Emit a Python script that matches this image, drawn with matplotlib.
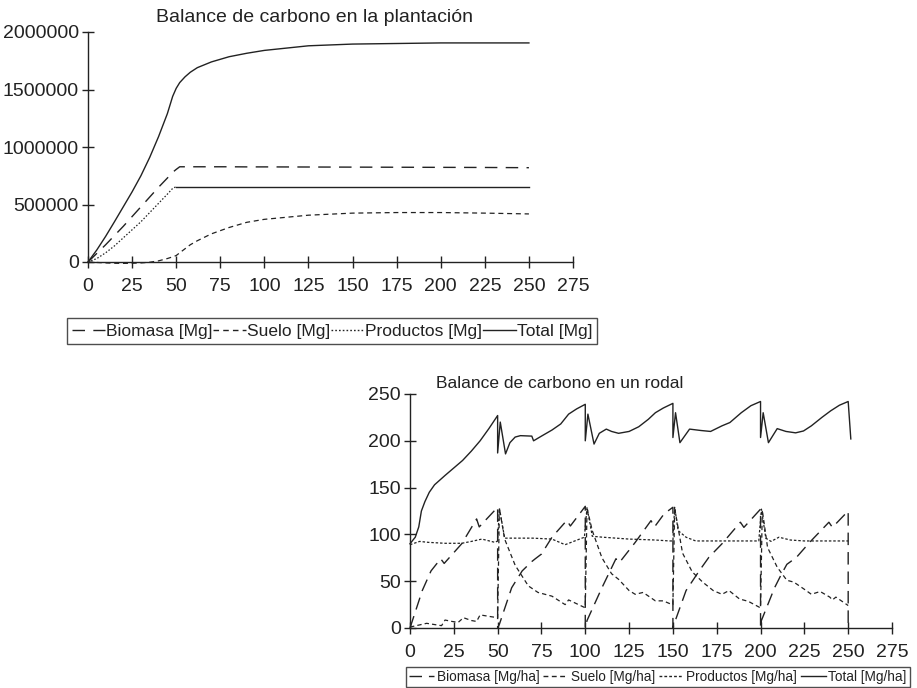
import matplotlib
matplotlib.use("Agg")
import matplotlib.pyplot as plt
from matplotlib import font_manager
from matplotlib.lines import Line2D
from matplotlib.ticker import FuncFormatter

# ---------------- data: plantation (top chart) ----------------
years_plant = [0, 5, 10, 15, 20, 25, 30, 35, 40, 45, 48, 50, 52, 55, 58, 62, 66, 70, 80,
               90, 100, 125, 150, 175, 200, 225, 250]
biomasa_plant = [0, 75000, 150000, 230000, 310000, 395000, 480000, 565000, 650000, 730000,
                 780000, 805000, 828000, 828000, 828000, 828000, 828000, 828000, 828000,
                 827000, 827000, 826000, 825000, 824000, 823000, 822000, 820000]
suelo_plant = [0, -4000, -8000, -11000, -12000, -11000, -8000, -2000, 10000, 30000, 45000,
               56000, 80000, 115000, 150000, 185000, 215000, 245000, 300000, 345000, 371000,
               407000, 425000, 430000, 430000, 425000, 418000]
productos_plant = [0, 30000, 80000, 140000, 210000, 280000, 350000, 430000, 510000, 590000,
                   640000, 655000, 655000, 655000, 655000, 655000, 655000, 655000, 655000,
                   655000, 655000, 655000, 655000, 655000, 655000, 655000, 655000]
total_plant = [0, 105000, 223000, 350000, 480000, 610000, 750000, 910000, 1090000, 1290000,
               1440000, 1510000, 1560000, 1610000, 1650000, 1690000, 1715000, 1740000,
               1785000, 1815000, 1840000, 1880000, 1895000, 1900000, 1905000, 1905000, 1905000]

# ---------------- data: stand (bottom chart) ----------------
years_total = [0, 3, 5, 6.5, 8.5, 11, 14, 20, 25, 30, 35, 40, 45, 50, 50, 51.5, 54.5, 57, 60,
               63, 69.5, 70.5, 75, 81, 86, 90.5, 95, 100, 100, 101.5, 105, 108, 112, 115, 119,
               125, 130.5, 136, 140, 144.5, 150, 150, 151.5, 154, 159.5, 166, 171.5, 178,
               182.5, 189, 194.5, 200, 200, 201.5, 204.5, 209.5, 214.5, 220, 224.5, 229, 235,
               240, 245, 250, 251.5]
total_rodal = [90, 97, 108, 125, 135, 145, 153, 163, 171, 179, 189, 200, 213, 227, 187, 220,
               186, 198, 204, 205.5, 205, 200, 205, 211.5, 218, 228.5, 234, 239, 200, 228.5,
               196.5, 208, 212.5, 210, 208, 210, 215, 223, 230, 235, 240, 203.5, 230, 198,
               212.5, 211, 210, 216, 219.5, 230, 237.5, 242, 203.5, 230, 198, 213, 210, 208.5,
               210.5, 216, 225, 232, 238, 242, 202]

years_bio = [0, 7, 12, 17.5, 19.5, 29.5, 38, 39.5, 50, 50, 51, 58, 64, 69.5, 71.5, 75, 81,
             89.5, 91.5, 100, 100, 101, 109.5, 117.5, 119.5, 128.5, 137.5, 139.5, 145, 150,
             150, 151, 157.5, 165, 170.5, 178, 188.5, 190.5, 200, 200, 200.5, 208, 211.5, 215,
             220.5, 228, 239, 241, 250, 250]
biomasa_rodal = [0, 40, 61, 74, 69, 90, 116.5, 108, 129, 0, 4, 43, 61, 71, 74, 79, 97, 115,
                 109, 130, 0, 8, 43, 74, 70, 91.5, 114.7, 108, 122, 129, 0, 6, 40, 61, 75.5,
                 90, 113, 107.5, 127, 0, 8, 43, 56, 68, 75.5, 91.5, 113, 107.5, 125, 0]

years_suelo = [0, 9.5, 18, 20, 24, 27.5, 30.5, 35, 38, 40, 46.5, 50, 51, 54, 60, 67.5, 73, 81,
               88.5, 90.5, 99.5, 100, 101, 104, 109.5, 115, 119, 125, 128.5, 133, 140, 144.5,
               149.5, 150, 151, 155.5, 161, 167, 173, 178, 182, 188, 193, 199.5, 200, 201,
               204, 209.5, 215, 219, 224.5, 229, 234, 239.5, 241, 243, 250]
suelo_rodal = [1, 5, 2.5, 8.5, 7, 6, 11, 8, 7, 14, 12, 11, 128, 95, 67, 45, 38, 34, 25, 30, 22,
               22, 128, 104, 75, 58, 52, 40, 36, 38, 29, 29, 25, 25, 128, 80, 60, 49, 40, 36,
               40, 31, 28.5, 22, 22, 126, 86, 65, 51, 49, 42, 36, 39, 33, 30, 33, 24]

years_prod = [0, 5.5, 10.5, 20, 29.5, 35, 41, 48.5, 50, 51, 54, 60, 70, 81, 88.5, 94, 99.5,
              101, 104, 110, 125, 140, 148, 150, 151, 153, 157.5, 163, 175, 199, 200.5, 203,
              206, 210.5, 217, 225, 250]
productos_rodal = [89, 92.5, 91.5, 90.5, 90.5, 92.5, 95, 91.5, 93, 128, 96, 96, 96, 95, 89, 93,
                   97, 129, 98, 97, 95, 94, 93, 93, 129, 104, 97, 93, 93, 93, 127, 96, 92.5, 97,
                   94, 93, 93]

x_ticks = [0, 25, 50, 75, 100, 125, 150, 175, 200, 225, 250, 275]
y_ticks_plant = [0, 500000, 1000000, 1500000, 2000000]
y_ticks_rodal = [0, 50, 100, 150, 200, 250]

# ---------------- fonts ----------------
avail = {f.name for f in font_manager.fontManager.ttflist}
fam = "Liberation Sans Narrow" if "Liberation Sans Narrow" in avail else "Liberation Sans"
plt.rcParams["font.family"] = [fam, "DejaVu Sans"]

INK = "#222222"
LS_BIO_TOP = (0, (9, 6))
LS_SUELO_TOP = (0, (4, 3))
LS_PROD_TOP = (0, (1.2, 1.5))
LS_BIO = (0, (9, 5))
LS_SUELO = (0, (3.5, 2.5))
LS_PROD = (0, (2, 1.5))

fig = plt.figure(figsize=(9.17, 6.88), dpi=100)


def style_axes(ax, fs):
    for s in ("top", "right"):
        ax.spines[s].set_visible(False)
    for s in ("left", "bottom"):
        ax.spines[s].set_color(INK)
        ax.spines[s].set_linewidth(1.0)
    ax.tick_params(direction="inout", length=9, width=1.0, colors=INK,
                   labelsize=fs, labelcolor=INK, pad=2)
    ax.tick_params(axis="x", pad=7)


# ---------------- top chart ----------------
ax1 = fig.add_axes([88 / 917, 1 - 262 / 688, 485 / 917, 230 / 688])
ax1.plot(years_plant, biomasa_plant, color=INK, lw=1.0, linestyle=LS_BIO_TOP)
ax1.plot(years_plant, suelo_plant, color=INK, lw=0.9, linestyle=LS_SUELO_TOP)
k = years_plant.index(50)
ax1.plot(years_plant[:k + 1], productos_plant[:k + 1], color=INK, lw=0.9, linestyle=LS_PROD_TOP)
ax1.plot(years_plant[k:], productos_plant[k:], color=INK, lw=1.0, linestyle="-")
ax1.plot(years_plant, total_plant, color=INK, lw=1.0, linestyle="-")
ax1.set_xlim(0, 275)
ax1.set_ylim(0, 2000000)
ax1.set_xticks(x_ticks)
ax1.set_yticks(y_ticks_plant)
ax1.yaxis.set_major_formatter(FuncFormatter(lambda v, p: f"{int(v)}"))
style_axes(ax1, 14)
for ln in ax1.lines:
    ln.set_clip_on(False)
fig.text(314 / 917, 1 - 18 / 688, "Balance de carbono en la plantación", ha="center",
         va="center", fontsize=14, color=INK)

h_top = [Line2D([], [], color=INK, lw=1.0, linestyle=LS_BIO_TOP),
         Line2D([], [], color=INK, lw=1.0, linestyle=LS_SUELO_TOP),
         Line2D([], [], color=INK, lw=1.0, linestyle=LS_PROD_TOP),
         Line2D([], [], color=INK, lw=1.0, linestyle="-")]
l_top = ["Biomasa [Mg]", "Suelo [Mg]", "Productos [Mg]", "Total [Mg]"]
leg1 = fig.legend(h_top, l_top, loc="center", bbox_to_anchor=(332 / 917, 1 - 331 / 688),
                  ncol=4, fontsize=12.5, frameon=True, fancybox=False, handlelength=1.9,
                  handletextpad=0.05, columnspacing=0.05, borderpad=0.3, labelcolor=INK)
leg1.get_frame().set_edgecolor(INK)
leg1.get_frame().set_linewidth(1.0)

# ---------------- bottom chart ----------------
ax2 = fig.add_axes([410 / 917, 1 - 628 / 688, 482 / 917, 234 / 688])
ax2.plot(years_bio, biomasa_rodal, color=INK, lw=1.0, linestyle=LS_BIO)
ax2.plot(years_suelo, suelo_rodal, color=INK, lw=0.9, linestyle=LS_SUELO)
ax2.plot(years_prod, productos_rodal, color=INK, lw=0.9, linestyle=LS_PROD)
ax2.plot(years_total, total_rodal, color=INK, lw=1.0, linestyle="-")
ax2.set_xlim(0, 275)
ax2.set_ylim(0, 250)
ax2.set_xticks(x_ticks)
ax2.set_yticks(y_ticks_rodal)
style_axes(ax2, 14)
for ln in ax2.lines:
    ln.set_clip_on(False)
fig.text(560 / 917, 1 - 383 / 688, "Balance de carbono en un rodal", ha="center",
         va="center", fontsize=12.5, color=INK)

h_bot = [Line2D([], [], color=INK, lw=1.0, linestyle=LS_BIO),
         Line2D([], [], color=INK, lw=1.0, linestyle=LS_SUELO),
         Line2D([], [], color=INK, lw=1.0, linestyle=LS_PROD),
         Line2D([], [], color=INK, lw=1.0, linestyle="-")]
l_bot = ["Biomasa [Mg/ha]", "Suelo [Mg/ha]", "Productos [Mg/ha]", "Total [Mg/ha]"]
leg2 = fig.legend(h_bot, l_bot, loc="center", bbox_to_anchor=(658 / 917, 1 - 677 / 688),
                  ncol=4, fontsize=9.8, frameon=True, fancybox=False, handlelength=1.8,
                  handletextpad=0.2, columnspacing=0.3, borderpad=0.25, labelcolor=INK)
leg2.get_frame().set_edgecolor(INK)
leg2.get_frame().set_linewidth(1.0)

fig.savefig("out.png", dpi=100, facecolor="white")
